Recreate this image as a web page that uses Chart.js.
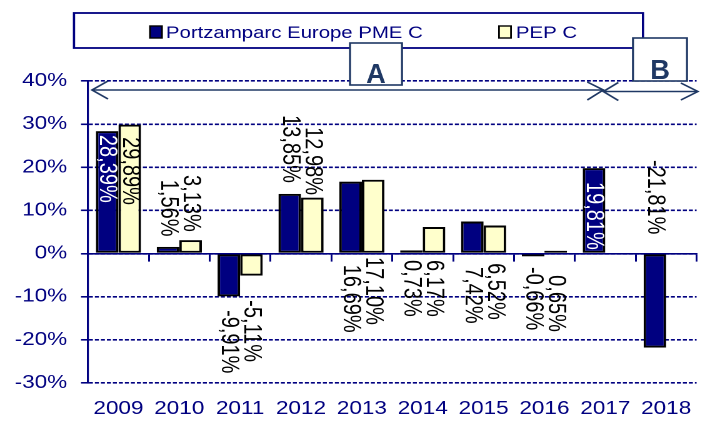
<!DOCTYPE html>
<html><head><meta charset="utf-8">
<script src="https://cdn.jsdelivr.net/npm/chart.js@4.4.1/dist/chart.umd.min.js"></script>
<style>
html,body{margin:0;padding:0;background:#fff;overflow:hidden;}
#wrap{width:710px;height:421px;overflow:hidden;position:relative;background:#fff;}
#c{position:absolute;left:0;top:0;transform:scaleX(1.25);transform-origin:0 0;}
</style></head><body>
<div id="wrap"><canvas id="c" width="568" height="421" style="width:568px;height:421px"></canvas></div>
<script>
// ---- data ----
const years = ['2009','2010','2011','2012','2013','2014','2015','2016','2017','2018'];
const portzamparc = [28.39, 1.56, -9.91, 13.85, 16.69, 0.73, 7.42, -0.66, 19.81, -21.81];
const pepC = [29.89, 3.13, -5.11, 12.98, 17.10, 6.17, 6.52, 0.65, null, null];
const seriesNames = ['Portzamparc Europe PME C', 'PEP C'];
const yTickValues = [-30, -20, -10, 0, 10, 20, 30, 40];
const periodNames = ['A', 'B'];

// ---- layout / style (not data) ----
const NAVY = '#000080';
const SLATE = '#1F3864';
const labelStart = [
  [27.5, 17.1, -13.1, 32.1, -2.6, -1.5, -3.1, -3.1, 16.6, 21.7],
  [27.0, 18.2, -10.8, 29.3, -0.8, -1.5, -2.2, -5.0, null, null]
];
const whiteLabel = [[0, 8], []];

function fmt(v){ return v.toFixed(2).replace('.', ',') + '%'; }

const overlay = {
  id: 'overlay',
  afterDatasetsDraw(chart){
    const ctx = chart.ctx, ys = chart.scales.y;
    chart.data.datasets.forEach((ds, di) => {
      const meta = chart.getDatasetMeta(di);
      meta.data.forEach((bar, j) => {
        const v = ds.data[j];
        if (v === null || v === undefined) return;
        const y = ys.getPixelForValue(labelStart[di][j]);
        ctx.save();
        ctx.translate(bar.x, y);
        ctx.rotate(Math.PI / 2);
        ctx.font = '20px "Liberation Sans", Arial, sans-serif';
        ctx.textAlign = 'left';
        ctx.textBaseline = 'middle';
        ctx.fillStyle = whiteLabel[di].includes(j) ? '#ffffff' : '#000000';
        ctx.fillText(fmt(v), 0, 0);
        ctx.restore();
      });
    });
  },
  afterDraw(chart){
    const ctx = chart.ctx, ca = chart.chartArea, xs = chart.scales.x;
    ctx.save();
    // legend box
    ctx.fillStyle = '#fff';
    ctx.fillRect(59.2, 13, 455.2, 35);
    ctx.lineWidth = 1.8; ctx.strokeStyle = NAVY;
    ctx.strokeRect(59.2, 13, 455.2, 35);
    const items = [{x: 120, tx: 132.8}, {x: 399.2, tx: 412.8}];
    chart.data.datasets.forEach((ds, i) => {
      const it = items[i];
      ctx.fillStyle = ds.backgroundColor;
      ctx.fillRect(it.x, 26, 9.6, 12);
      ctx.lineWidth = 1.4; ctx.strokeStyle = '#000';
      ctx.strokeRect(it.x, 26, 9.6, 12);
      ctx.fillStyle = NAVY;
      ctx.font = '16.3px "Liberation Sans", Arial, sans-serif';
      ctx.textAlign = 'left'; ctx.textBaseline = 'alphabetic';
      ctx.fillText(ds.label, it.tx, 38);
    });
    // period arrows
    const left = ca.left + 3.2;
    const split = xs.getPixelForValue(8) - 1.6;
    const right = ca.right + 1;
    ctx.strokeStyle = SLATE; ctx.lineWidth = 1.6;
    function line(pts){ ctx.beginPath(); ctx.moveTo(pts[0][0], pts[0][1]); for (let k = 1; k < pts.length; k++) ctx.lineTo(pts[k][0], pts[k][1]); ctx.stroke(); }
    line([[left, 90], [split, 90]]);
    line([[left + 12.8, 81], [left, 90], [left + 12.8, 99]]);
    line([[split - 12.8, 82], [split, 90], [split - 12.8, 100]]);
    line([[split, 91.5], [right, 91.5]]);
    line([[split + 12, 82.5], [split, 91.5], [split + 12, 100.5]]);
    line([[right - 13.6, 83], [right, 91.5], [right - 13.6, 100]]);
    // period boxes
    const boxes = [{x: 280, y: 43, w: 41.6, h: 42, base: 83}, {x: 506.4, y: 38, w: 43.2, h: 43, base: 79}];
    boxes.forEach((b, i) => {
      ctx.fillStyle = '#fff';
      ctx.fillRect(b.x, b.y, b.w, b.h);
      ctx.lineWidth = 1.6; ctx.strokeStyle = SLATE;
      ctx.strokeRect(b.x, b.y, b.w, b.h);
      ctx.save();
      ctx.translate(b.x + b.w / 2, b.base);
      ctx.scale(0.78, 1);
      ctx.fillStyle = SLATE;
      ctx.font = 'bold 28px "Liberation Sans", Arial, sans-serif';
      ctx.textAlign = 'center'; ctx.textBaseline = 'alphabetic';
      ctx.fillText(periodNames[i], 0, 0);
      ctx.restore();
    });
    ctx.restore();
  }
};

new Chart(document.getElementById('c'), {
  type: 'bar',
  data: {
    labels: years,
    datasets: [
      {label: seriesNames[0], data: portzamparc, backgroundColor: NAVY, borderColor: '#000', borderWidth: 2, borderSkipped: false},
      {label: seriesNames[1], data: pepC, backgroundColor: '#FFFFCC', borderColor: '#000', borderWidth: 2, borderSkipped: false}
    ]
  },
  options: {
    responsive: false,
    animation: false,
    devicePixelRatio: 2,
    categoryPercentage: 0.742,
    barPercentage: 1,
    layout: {padding: {top: 81, right: 1, bottom: 0, left: 0}},
    plugins: {legend: {display: false}, tooltip: {enabled: false}, title: {display: false}},
    scales: {
      x: {
        type: 'category', position: 'bottom',
        grid: {display: false, drawTicks: false},
        border: {display: false},
        ticks: {color: NAVY, font: {family: '"Liberation Sans", Arial, sans-serif', size: 18}, padding: 15, maxRotation: 0, autoSkip: false},
        afterFit(s){ s.height = 38; }
      },
      x2: {
        type: 'category', position: {y: 0}, offset: true,
        grid: {offset: true, drawOnChartArea: false, drawTicks: true, tickLength: 7, color: NAVY, lineWidth: 1.5},
        border: {display: true, color: NAVY, width: 1.6},
        ticks: {display: false}
      },
      y: {
        min: -30, max: 40,
        afterBuildTicks(s){ s.ticks = yTickValues.map(v => ({value: v})); },
        afterFit(s){ s.width = 70.4; },
        grid: {color: NAVY, lineWidth: 1.6, tickLength: 5.6, tickColor: NAVY, tickBorderDash: [], tickWidth: 1.6},
        border: {display: true, color: NAVY, width: 1.6, dash: [3.2, 1.6]},
        ticks: {color: NAVY, font: {family: '"Liberation Sans", Arial, sans-serif', size: 18}, padding: 11, callback: v => v + '%'}
      }
    }
  },
  plugins: [overlay]
});
</script>
</body></html>
